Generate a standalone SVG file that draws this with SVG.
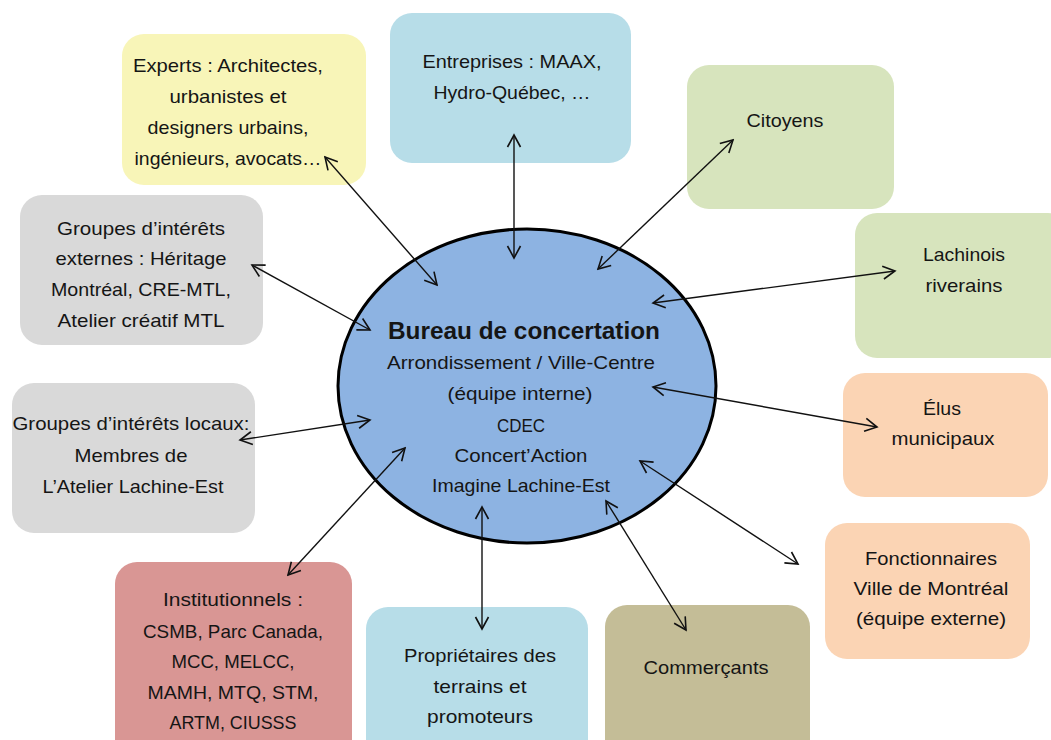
<svg xmlns="http://www.w3.org/2000/svg" width="1051" height="740" viewBox="0 0 1051 740">
<style>
.t{font-family:"Liberation Sans",Arial,sans-serif;font-size:19px;fill:#151515;text-anchor:middle}
.b{font-weight:bold;font-size:24px}
.c{fill:none;stroke:#111;stroke-width:1.4;marker-start:url(#ah);marker-end:url(#ah)}
</style>
<defs>
<marker id="ah" markerUnits="userSpaceOnUse" markerWidth="16" markerHeight="16" viewBox="0 0 16 16" refX="14" refY="8" orient="auto-start-reverse">
<path d="M2,1.5 L14,8 L2,14.5" fill="none" stroke="#111" stroke-width="1.6"/>
</marker>
</defs>
<rect width="1051" height="740" fill="#fff"/>
<g id="n-experts"><rect x="122" y="34" width="244" height="151" rx="22" fill="#F8F5B8"/>
<text class="t" x="228" y="72" textLength="190" lengthAdjust="spacingAndGlyphs">Experts : Architectes,</text>
<text class="t" x="228" y="103" textLength="117" lengthAdjust="spacingAndGlyphs">urbanistes et</text>
<text class="t" x="228" y="134" textLength="161" lengthAdjust="spacingAndGlyphs">designers urbains,</text>
<text class="t" x="228" y="165" textLength="187" lengthAdjust="spacingAndGlyphs">ingénieurs, avocats…</text></g>
<g id="n-entreprises"><rect x="390" y="13" width="241" height="150" rx="22" fill="#B7DDE8"/>
<text class="t" x="512" y="68" textLength="179" lengthAdjust="spacingAndGlyphs">Entreprises : MAAX,</text>
<text class="t" x="512" y="99" textLength="157" lengthAdjust="spacingAndGlyphs">Hydro-Québec, …</text></g>
<g id="n-citoyens"><rect x="687" y="65" width="207" height="144" rx="22" fill="#D7E4BD"/>
<text class="t" x="785" y="127" textLength="77" lengthAdjust="spacingAndGlyphs">Citoyens</text></g>
<g id="n-lachinois"><rect x="855" y="213" width="215" height="145" rx="22" fill="#D7E4BD"/>
<text class="t" x="964" y="261" textLength="82" lengthAdjust="spacingAndGlyphs">Lachinois</text>
<text class="t" x="964" y="292" textLength="77" lengthAdjust="spacingAndGlyphs">riverains</text></g>
<g id="n-elus"><rect x="843" y="373" width="205" height="124" rx="22" fill="#FBD4B4"/>
<text class="t" x="942" y="415" textLength="38" lengthAdjust="spacingAndGlyphs">Élus</text>
<text class="t" x="943" y="445" textLength="103" lengthAdjust="spacingAndGlyphs">municipaux</text></g>
<g id="n-fonctionnaires"><rect x="825" y="523" width="205" height="136" rx="22" fill="#FBD4B4"/>
<text class="t" x="931" y="565" textLength="132" lengthAdjust="spacingAndGlyphs">Fonctionnaires</text>
<text class="t" x="931" y="595" textLength="155" lengthAdjust="spacingAndGlyphs">Ville de Montréal</text>
<text class="t" x="931" y="625" textLength="150" lengthAdjust="spacingAndGlyphs">(équipe externe)</text></g>
<g id="n-commercants"><rect x="605" y="605" width="205" height="160" rx="22" fill="#C4BD97"/>
<text class="t" x="706" y="674" textLength="125" lengthAdjust="spacingAndGlyphs">Commerçants</text></g>
<g id="n-proprietaires"><rect x="366" y="607" width="222" height="160" rx="22" fill="#B7DDE8"/>
<text class="t" x="480" y="662" textLength="152" lengthAdjust="spacingAndGlyphs">Propriétaires des</text>
<text class="t" x="480" y="693" textLength="93" lengthAdjust="spacingAndGlyphs">terrains et</text>
<text class="t" x="480" y="723" textLength="106" lengthAdjust="spacingAndGlyphs">promoteurs</text></g>
<g id="n-institutionnels"><rect x="115" y="562" width="237" height="200" rx="22" fill="#D99694"/>
<text class="t" x="233" y="606" textLength="140" lengthAdjust="spacingAndGlyphs">Institutionnels :</text>
<text class="t" x="233" y="638" textLength="180" lengthAdjust="spacingAndGlyphs">CSMB, Parc Canada,</text>
<text class="t" x="233" y="668" textLength="123" lengthAdjust="spacingAndGlyphs">MCC, MELCC,</text>
<text class="t" x="233" y="699" textLength="171" lengthAdjust="spacingAndGlyphs">MAMH, MTQ, STM,</text>
<text class="t" x="233" y="729" textLength="127" lengthAdjust="spacingAndGlyphs">ARTM, CIUSSS</text></g>
<g id="n-groupes-locaux"><rect x="12" y="383" width="243" height="150" rx="22" fill="#D9D9D9"/>
<text class="t" x="131" y="430" textLength="237" lengthAdjust="spacingAndGlyphs">Groupes d’intérêts locaux:</text>
<text class="t" x="131" y="462" textLength="113" lengthAdjust="spacingAndGlyphs">Membres de</text>
<text class="t" x="133" y="493" textLength="181" lengthAdjust="spacingAndGlyphs">L’Atelier Lachine-Est</text></g>
<g id="n-groupes-externes"><rect x="20" y="195" width="243" height="150" rx="22" fill="#D9D9D9"/>
<text class="t" x="141" y="235" textLength="168" lengthAdjust="spacingAndGlyphs">Groupes d’intérêts</text>
<text class="t" x="141" y="265" textLength="171" lengthAdjust="spacingAndGlyphs">externes : Héritage</text>
<text class="t" x="141" y="296" textLength="180" lengthAdjust="spacingAndGlyphs">Montréal, CRE-MTL,</text>
<text class="t" x="141" y="327" textLength="167" lengthAdjust="spacingAndGlyphs">Atelier créatif MTL</text></g>
<g id="n-bureau"><ellipse cx="527" cy="386" rx="189" ry="157" fill="#8DB3E2" stroke="#000" stroke-width="3"/>
<text class="t b" x="524" y="339" textLength="272" lengthAdjust="spacingAndGlyphs">Bureau de concertation</text>
<text class="t" x="521" y="369" textLength="268" lengthAdjust="spacingAndGlyphs">Arrondissement / Ville-Centre</text>
<text class="t" x="520" y="400" textLength="145" lengthAdjust="spacingAndGlyphs">(équipe interne)</text>
<text class="t" x="521" y="432" textLength="48" lengthAdjust="spacingAndGlyphs">CDEC</text>
<text class="t" x="521" y="462" textLength="133" lengthAdjust="spacingAndGlyphs">Concert’Action</text>
<text class="t" x="521" y="492" textLength="178" lengthAdjust="spacingAndGlyphs">Imagine Lachine-Est</text></g>
<g id="connectors">
<line class="c" x1="325" y1="157" x2="437" y2="285"/>
<line class="c" x1="514" y1="135" x2="514" y2="258"/>
<line class="c" x1="733" y1="140" x2="598" y2="269"/>
<line class="c" x1="653" y1="303" x2="895" y2="271"/>
<line class="c" x1="653" y1="387" x2="877" y2="427"/>
<line class="c" x1="640" y1="461" x2="798" y2="564"/>
<line class="c" x1="606" y1="501" x2="686" y2="630"/>
<line class="c" x1="482" y1="507" x2="482" y2="629"/>
<line class="c" x1="405" y1="448" x2="288" y2="575"/>
<line class="c" x1="370" y1="420" x2="240" y2="440"/>
<line class="c" x1="370" y1="330" x2="252" y2="265"/>
</g>
</svg>
